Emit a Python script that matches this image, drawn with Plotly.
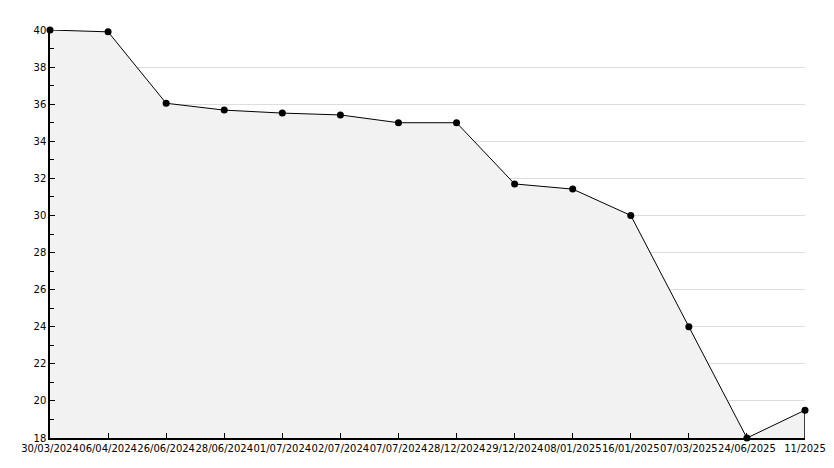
import plotly.graph_objects as go

dates = ["30/03/2024", "06/04/2024", "26/06/2024", "28/06/2024", "01/07/2024",
         "02/07/2024", "07/07/2024", "28/12/2024", "29/12/2024", "08/01/2025",
         "16/01/2025", "07/03/2025", "24/06/2025", "11/2025"]
values = [40.0, 39.9, 36.05, 35.68, 35.52, 35.42, 35.0, 35.0, 31.7, 31.42,
          30.0, 24.0, 18.0, 19.5]
y_ticks = [18, 20, 22, 24, 26, 28, 30, 32, 34, 36, 38, 40]

x_idx = list(range(len(dates)))

fig = go.Figure()
fig.add_trace(go.Scatter(
    x=x_idx, y=values, mode="lines",
    line=dict(color="black", width=1),
    fill="tozeroy", fillcolor="#f2f2f2",
    hoverinfo="skip",
))
# right edge of the fill area
fig.add_trace(go.Scatter(
    x=[x_idx[-1], x_idx[-1]], y=[18, values[-1]], mode="lines",
    line=dict(color="black", width=1.5), hoverinfo="skip",
))
fig.add_trace(go.Scatter(
    x=x_idx, y=values, mode="markers",
    marker=dict(symbol="circle", size=7, color="black"),
    cliponaxis=False, hoverinfo="skip",
))

fig.update_layout(
    width=834, height=468,
    margin=dict(l=42, r=37, t=22, b=38),
    paper_bgcolor="white", plot_bgcolor="white",
    showlegend=False,
    font=dict(family="DejaVu Sans", size=10, color="black"),
)
fig.update_xaxes(
    range=[0, len(dates) - 1],
    tickmode="array", tickvals=x_idx, ticktext=dates,
    ticks="inside", ticklen=5, tickcolor="black", tickwidth=1,
    showgrid=False, showline=True, linecolor="black", linewidth=1.5,
    zeroline=False, tickangle=0, automargin=False,
    tickfont=dict(family="DejaVu Sans", size=10, color="black"),
)
fig.update_yaxes(
    range=[18, 40],
    tickmode="array", tickvals=y_ticks,
    ticks="inside", ticklen=5, tickcolor="black", tickwidth=1,
    minor=dict(dtick=1, tick0=18, ticks="inside", ticklen=4, tickcolor="black", showgrid=False),
    showgrid=True, gridcolor="#dddddd", gridwidth=1,
    showline=True, linecolor="black", linewidth=1.5,
    zeroline=False, automargin=False,
    tickfont=dict(family="DejaVu Sans", size=10, color="black"),
)

fig.write_html("out.html")
